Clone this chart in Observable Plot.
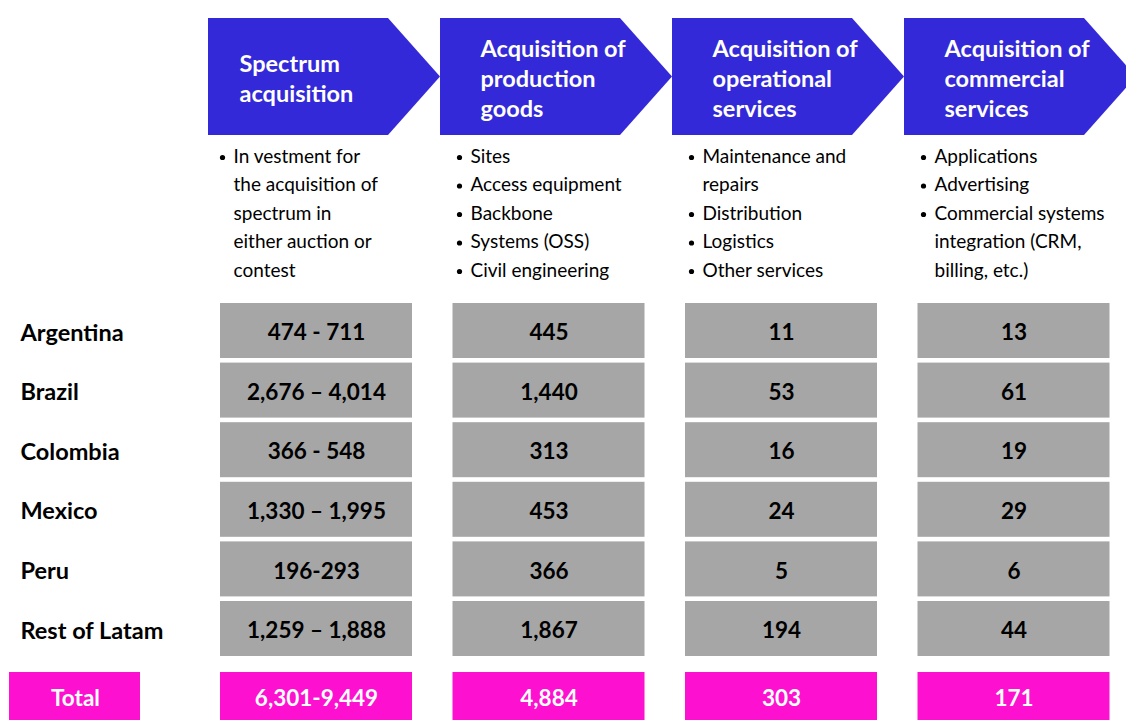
<!DOCTYPE html>
<html>
<head>
<meta charset="utf-8">
<script src="https://cdn.jsdelivr.net/npm/d3@7"></script>
<script src="https://cdn.jsdelivr.net/npm/@observablehq/plot@0.6"></script>
<style>
  html, body { margin: 0; padding: 0; background: #fff; }
  #chart svg { display: block; }
</style>
</head>
<body>
<div id="chart"></div>
<script>
// ---- Data ----
const headers = [
  "Spectrum\nacquisition",
  "Acquisition of\nproduction\ngoods",
  "Acquisition of\noperational\nservices",
  "Acquisition of\ncommercial\nservices"
];
const bulletsSpectrum = [["In vestment for", "the acquisition of", "spectrum in", "either auction or", "contest"]];
const bulletsProduction = [["Sites"], ["Access equipment"], ["Backbone"], ["Systems (OSS)"], ["Civil engineering"]];
const bulletsOperational = [["Maintenance and", "repairs"], ["Distribution"], ["Logistics"], ["Other services"]];
const bulletsCommercial = [["Applications"], ["Advertising"], ["Commercial systems", "integration (CRM,", "billing, etc.)"]];
const countries = ["Argentina", "Brazil", "Colombia", "Mexico", "Peru", "Rest of Latam"];
const spectrum = ["474 - 711", "2,676 \u2013 4,014", "366 - 548", "1,330 \u2013 1,995", "196-293", "1,259 \u2013 1,888"];
const production = ["445", "1,440", "313", "453", "366", "1,867"];
const operational = ["11", "53", "16", "24", "5", "194"];
const commercial = ["13", "61", "19", "29", "6", "44"];
const totalLabel = "Total";
const totals = ["6,301-9,449", "4,884", "303", "171"];

// ---- Layout (derived from indices) ----
const W = 1126, H = 720;
const BLUE = "#3429d8", GREY = "#a6a6a6", MAGENTA = "#fd10d0", INK = "#000";
const chevLeft = i => 208 + 232 * i;
const chevBody = 180, chevTip = 52, chevTop = 18, chevBottom = 135;
const cellLeft = i => 220 + 232.5 * i;
const cellW = 192;
const rowTop = r => 303 + 59.6 * r;
const rowH = 55;
const totalTop = 672, totalBottom = 722;

// chevrons as polygons via area (x1, y1..y2)
const chevrons = headers.flatMap((h, i) => [
  {i, x: chevLeft(i), y1: chevTop, y2: chevBottom},
  {i, x: chevLeft(i) + chevBody, y1: chevTop, y2: chevBottom},
  {i, x: chevLeft(i) + chevBody + chevTip, y1: (chevTop + chevBottom) / 2, y2: (chevTop + chevBottom) / 2}
]);
const headerText = headers.map((h, i) => ({x: chevLeft(i) + (i === 0 ? 31 : 40), y: 77, text: h}));

const bulletCols = [bulletsSpectrum, bulletsProduction, bulletsOperational, bulletsCommercial];
const bulletLines = [];
bulletCols.forEach((items, c) => {
  let line = 0;
  items.forEach(item => {
    item.forEach((t, k) => {
      bulletLines.push({c, line, text: t, bullet: k === 0,
        x: chevLeft(c) + (c === 0 ? 25 : 30), y: 156 + 28.5 * line});
      line++;
    });
  });
});

const series = [spectrum, production, operational, commercial];
const cells = [];
series.forEach((vals, c) => vals.forEach((v, r) => cells.push({c, r, v})));
const totalCells = totals.map((v, c) => ({c, v}));

const chart = Plot.plot({
  width: W, height: H, margin: 0,
  x: {domain: [0, W], range: [0, W], axis: null},
  y: {domain: [0, H], range: [0, H], axis: null},
  style: {fontFamily: "Lato, 'Open Sans', sans-serif", background: "#fff"},
  marks: [
    Plot.area(chevrons, {x1: "x", y1: "y1", y2: "y2", z: "i", fill: BLUE, curve: "linear"}),
    Plot.text(headerText, {x: "x", y: "y", text: "text", textAnchor: "start", lineAnchor: "middle",
      lineHeight: 1.28, fill: "#fff", fontSize: 23.5, fontWeight: "bold"}),
    Plot.dot(bulletLines.filter(d => d.bullet), {x: d => d.x - 11, y: d => d.y + 1, r: 2.6, fill: INK, stroke: null}),
    Plot.text(bulletLines, {x: "x", y: "y", text: "text", textAnchor: "start", lineAnchor: "middle",
      fill: INK, fontSize: 19}),
    // grey cells
    Plot.rect(cells, {x1: d => cellLeft(d.c), x2: d => cellLeft(d.c) + cellW,
      y1: d => rowTop(d.r), y2: d => rowTop(d.r) + rowH, fill: GREY}),
    Plot.text(cells, {x: d => cellLeft(d.c) + cellW / 2, y: d => rowTop(d.r) + rowH / 2 + 2, text: "v",
      fill: INK, fontSize: 22.5, fontWeight: "bold", lineAnchor: "middle"}),
    // row labels
    Plot.text(countries, {x: () => 20, y: (d, r) => rowTop(r) + rowH / 2 + 2, text: d => d, textAnchor: "start",
      lineAnchor: "middle", fill: INK, fontSize: 23.5, fontWeight: "bold"}),
    // totals
    Plot.rect([totalLabel], {x1: () => 9, x2: () => 140, y1: () => totalTop, y2: () => totalBottom, fill: MAGENTA}),
    Plot.text([totalLabel], {x: () => 75, y: () => (totalTop + 720) / 2 + 2, text: d => d, fill: "#fff",
      fontSize: 22.5, fontWeight: "bold", lineAnchor: "middle"}),
    Plot.rect(totalCells, {x1: d => cellLeft(d.c), x2: d => cellLeft(d.c) + cellW,
      y1: () => totalTop, y2: () => totalBottom, fill: MAGENTA}),
    Plot.text(totalCells, {x: d => cellLeft(d.c) + cellW / 2, y: () => (totalTop + 720) / 2 + 2, text: "v",
      fill: "#fff", fontSize: 22.5, fontWeight: "bold", lineAnchor: "middle"})
  ]
});
document.getElementById("chart").appendChild(chart);
</script>
</body>
</html>
